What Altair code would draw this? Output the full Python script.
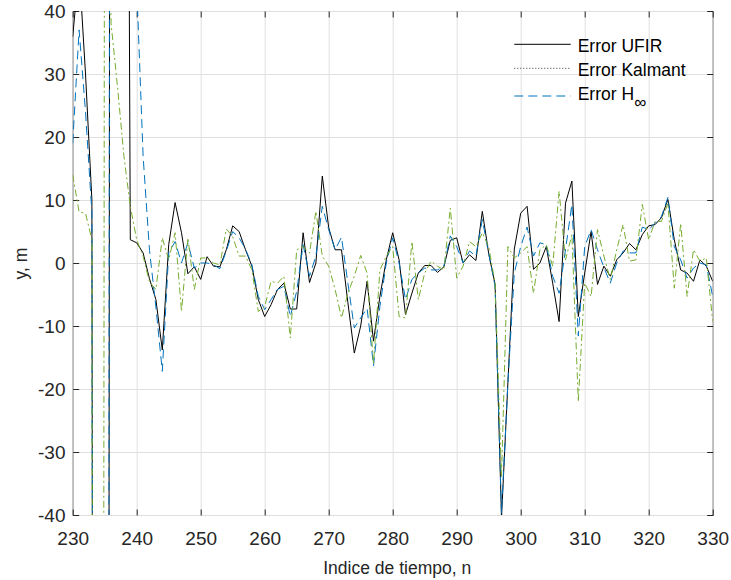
import altair as alt
import pandas as pd

# ---------------- data ----------------
n_index = list(range(230, 331))

error_ufir = [
    35.9, 47, 30, 10, -700, -720, 280, 300, 245, 3.7,
    3.2, 1.6, -2.5, -5.8, -13.8, 2.9, 9.6, 4.8, -1.7, -0.6,
    -2.6, 1.0, -0.5, -0.6, 2.1, 5.9, 5.0, 2.1, -0.5, -5.8,
    -8.5, -6.6, -4.2, -3.2, -7.3, -7.3, 4.8, -3.1, 0.0, 13.8,
    5.6, 2.1, 2.1, -6.3, -14.3, -10.0, -2.9, -12.4, -5.3, 0.5,
    4.8, 0.5, -8.2, -4.8, -1.6, -0.4, -0.4, -1.5, -0.6, 3.6,
    4.0, 0.0, 1.3, 0.4, 8.2, 1.5, -3.4, -40.5, -19.0, 2.2,
    7.9, 9.0, -1.0, 0.0, 2.6, -3.2, -9.3, 9.5, 13.0, -8.5,
    -1.6, 5.0, -3.4, -0.5, -2.1, 0.5, 1.6, 3.1, 2.1, 4.5,
    5.9, 6.1, 7.2, 10.1, 3.7, -1.1, -1.6, -2.9, 0.5, -0.5,
    -2.9,
]

error_kalman = [
    14, 8.1, 7.9, 3.7, -900, 100, 38, 28, 17, 9,
    3.7, 1.1, -3.0, -4.2, 4.0, 0.5, 4.8, -7.7, 4.0, -4.2,
    0.8, 0.8, 0.0, -0.3, 5.4, 4.2, 1.1, 1.1, -1.1, -7.7,
    -6.9, -2.9, -3.2, -2.1, -11.9, 2.1, 2.6, 1.6, 8.2, 1.1,
    -0.5, -4.2, -8.7, -4.8, -2.1, 1.2, -1.6, -16.1, -1.1, 1.1,
    2.6, -8.5, -8.7, 3.4, -5.8, -1.6, 0.3, -0.5, -1.1, 8.7,
    -2.4, -0.5, 3.4, 2.6, 4.8, 2.6, -3.2, -34.0, 2.6, 0.8,
    1.6, 2.6, -4.8, 2.1, 2.9, -0.5, 11.4, 0.5, 4.5, -22.0,
    -3.2, -5.3, 5.3, 1.1, -2.6, 2.1, 6.1, 0.3, 0.5, 9.3,
    3.7, 6.6, 6.6, 9.5, -4.0, 6.3, -5.3, 2.1, 0.3, 0.8,
    -9.3,
]

error_hinf = [
    19, 37, 24, 8, -700, -700, 300, 250, 200, 120,
    44, 17, 2.0, -7.0, -17.2, 1.6, 3.4, 0.0, 3.2, -0.8,
    0.0, 0.0, -0.3, -0.9, 1.9, 5.0, 4.0, 2.2, -0.3, -5.3,
    -7.4, -5.8, -4.2, -3.7, -8.5, -4.5, 2.9, -2.1, 1.1, 9.0,
    5.3, 2.1, 4.1, -3.2, -10.3, -8.7, -7.2, -16.3, -6.9, 0.0,
    4.0, 0.0, -5.8, -2.6, -1.6, -0.8, -1.1, -1.1, -0.5, 4.3,
    2.6, 0.0, 1.9, 1.1, 6.9, 1.5, -3.7, -39.7, -19.0, -1.6,
    2.6, 5.7, 1.1, 3.2, 2.9, -2.1, -4.8, 2.1, 9.3, -11.6,
    2.6, 5.3, 2.1, -0.7, -3.2, 0.0, 1.9, 1.6, 1.6, 5.7,
    5.3, 6.3, 7.4, 10.4, 2.6, 0.5, -2.4, -0.8, 0.0, -0.3,
    -5.3,
]

x_ticks = list(range(230, 331, 10))
y_ticks = list(range(-40, 41, 10))

legend_labels = ["Error UFIR", "Error Kalmant", "Error H"]
subscript_label = "\u221e"

# ---------------- styling ----------------
FONT = "Liberation Sans"
TXT = "#262626"
GRID = "#dfdfdf"
C_UFIR = "#000000"
C_HINF = "#0072BD"
C_KAL = "#77AC30"

df_ufir = pd.DataFrame({"n": n_index, "v": error_ufir})
df_kal = pd.DataFrame({"n": n_index, "v": error_kalman})
df_hinf = pd.DataFrame({"n": n_index, "v": error_hinf})
dummy = pd.DataFrame({"k": [0]})

x_scale = alt.Scale(domain=[230, 330], nice=False, zero=False)
y_scale = alt.Scale(domain=[-40, 40], nice=False, zero=False)

INWARD = {"expr": "-6"}

axis_bottom = alt.Axis(
    orient="bottom", values=x_ticks, grid=True, gridColor=GRID, gridWidth=1,
    domain=False, ticks=True, tickSize=INWARD, tickColor=TXT, tickWidth=1,
    labelFont=FONT, labelFontSize=19, labelColor=TXT, labelPadding=20,
    labelFlush=False, labelOverlap=False, labelExpr="datum.value + ''",
    title="Indice de tiempo, n", titleFont=FONT, titleFontSize=17.5,
    titleFontWeight="normal", titleColor=TXT, titleX=324, titleY=58.3,
    titleBaseline="alphabetic", titleAlign="center",
)
axis_left = alt.Axis(
    orient="left", values=y_ticks, grid=True, gridColor=GRID, gridWidth=1,
    domain=False, ticks=True, tickSize=INWARD, tickColor=TXT, tickWidth=1,
    labelFont=FONT, labelFontSize=19, labelColor=TXT, labelPadding=13.7,
    labelFlush=False, labelOverlap=False, labelExpr="datum.value + ''",
    title="y, m", titleFont=FONT, titleFontSize=17.5, titleFontWeight="normal",
    titleColor=TXT, titleAngle=270, titleX=-45.7, titleY=252,
    titleBaseline="alphabetic", titleAlign="center",
)
axis_top = alt.Axis(
    orient="top", values=x_ticks, grid=False, domain=False, labels=False,
    ticks=True, tickSize=INWARD, tickColor=TXT, tickWidth=1, title=None,
)
axis_right = alt.Axis(
    orient="right", values=y_ticks, grid=False, domain=False, labels=False,
    ticks=True, tickSize=INWARD, tickColor=TXT, tickWidth=1, title=None,
)

ufir_line = alt.Chart(df_ufir).mark_line(
    color=C_UFIR, strokeWidth=1, clip=True
).encode(
    x=alt.X("n:Q", scale=x_scale, axis=axis_bottom),
    y=alt.Y("v:Q", scale=y_scale, axis=axis_left),
)

hinf_line = alt.Chart(df_hinf).mark_line(
    color=C_HINF, strokeWidth=1, strokeDash=[9, 5], clip=True
).encode(
    x=alt.X("n:Q", scale=x_scale, axis=None),
    y=alt.Y("v:Q", scale=y_scale, axis=None),
)

kal_line = alt.Chart(df_kal).mark_line(
    color=C_KAL, strokeWidth=1, strokeDash=[7, 3, 2, 3], clip=True
).encode(
    x=alt.X("n:Q", scale=x_scale, axis=axis_top),
    y=alt.Y("v:Q", scale=y_scale, axis=axis_right),
)

# ---------------- manual legend (no box, as in the reference) ----------------
leg_x1, leg_x2, leg_tx = 441.6, 498.0, 505.0
rows = [(33.3, 41.3), (57.3, 64.7), (85.0, 89.0)]

leg_r1 = alt.Chart(dummy).mark_rule(color=C_UFIR, strokeWidth=1).encode(
    x=alt.value(leg_x1), x2=alt.value(leg_x2), y=alt.value(rows[0][0]))
leg_r2 = alt.Chart(dummy).mark_rule(color="#333333", strokeWidth=1, strokeDash=[1, 2]).encode(
    x=alt.value(leg_x1), x2=alt.value(leg_x2), y=alt.value(rows[1][0]))
leg_r3 = alt.Chart(dummy).mark_rule(color=C_HINF, strokeWidth=1, strokeDash=[9, 5]).encode(
    x=alt.value(leg_x1), x2=alt.value(leg_x2), y=alt.value(rows[2][0]))

def leg_text(txt, y, x=leg_tx, size=17.5):
    return alt.Chart(dummy).mark_text(
        text=txt, align="left", baseline="alphabetic", font=FONT,
        fontSize=size, color="#000000",
    ).encode(x=alt.value(x), y=alt.value(y))

leg_t1 = leg_text(legend_labels[0], rows[0][1])
leg_t2 = leg_text(legend_labels[1], rows[1][1])
leg_t3 = leg_text(legend_labels[2], rows[2][1])
leg_t3s = leg_text(subscript_label, 96.5, x=561.5, size=17)

chart = alt.layer(
    ufir_line, hinf_line, kal_line,
    leg_r1, leg_r2, leg_r3, leg_t1, leg_t2, leg_t3, leg_t3s,
).resolve_axis(
    x="independent", y="independent"
).properties(
    width=640, height=504,
    autosize=alt.AutoSizeParams(type="none"),
    padding={"left": 72.7, "top": 11, "right": 18.3, "bottom": 65},
    background="white",
).configure_view(
    stroke=TXT, strokeWidth=1
)

chart.save("out.html", embed_options={"renderer": "svg", "actions": False})
